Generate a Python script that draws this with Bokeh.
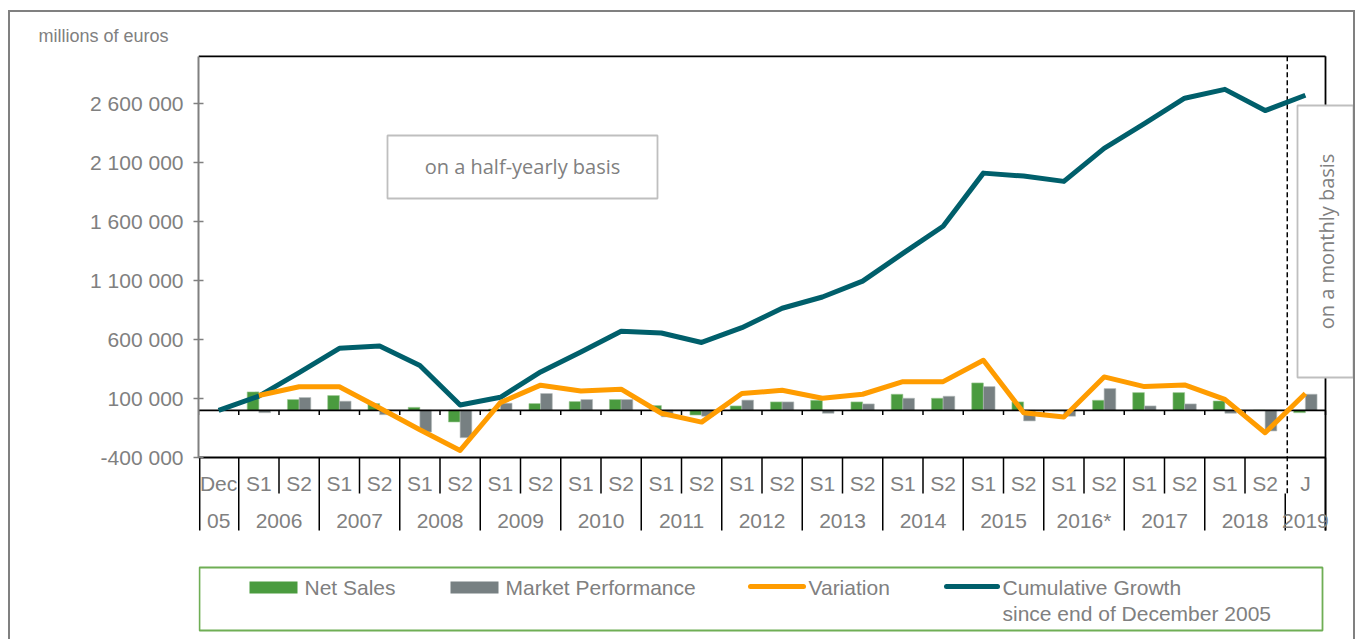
import numpy as np
from bokeh.plotting import figure
from bokeh.models import Range1d, FixedTicker, Title
from bokeh.core.properties import value
from bokeh.embed import file_html
from bokeh.resources import INLINE

# ---------------- data (millions of euros) ----------------
periods = ["Dec"] + ["S1", "S2"] * 13 + ["J"]
years = ["05", "2006", "2007", "2008", "2009", "2010", "2011", "2012", "2013",
         "2014", "2015", "2016*", "2017", "2018", "2019"]
# cumulative growth since end of December 2005 (Dec 05 ... J 2019)
cumulative = [0, 120000, 320000, 525000, 545000, 380000, 45000, 110000, 325000,
              495000, 670000, 655000, 575000, 700000, 865000, 960000, 1095000,
              1330000, 1560000, 2010000, 1985000, 1940000, 2220000, 2430000,
              2645000, 2720000, 2540000, 2670000]
# series from 2006 S1 to J 2019
net_sales = [156000, 91000, 125000, 57000, 25000, -99000, 10000, 57000, 74000,
             91000, 40000, -40000, 37000, 71000, 85000, 71000, 136000, 102000,
             232000, 71000, -5000, 85000, 150000, 150000, 79000, 0, -20000]
market_perf = [-20000, 108000, 77000, -37000, -184000, -232000, 60000, 142000,
               91000, 91000, -55000, -50000, 86000, 71000, -25000, 54000, 102000,
               119000, 201000, -90000, -50000, 184000, 37000, 54000, -25000,
               -175000, 136000]
variation = [125000, 200000, 200000, 20000, -165000, -340000, 65000, 213000,
             164000, 179000, -25000, -100000, 142000, 170000, 102000, 136000,
             243000, 243000, 424000, -20000, -57000, 283000, 201000, 215000,
             93000, -190000, 142000]
y_ticks = [-400000, 100000, 600000, 1100000, 1600000, 2100000, 2600000]
y_tick_labels = ["-400 000", "100 000", "600 000", "1 100 000", "1 600 000",
                 "2 100 000", "2 600 000"]
legend_labels = ["Net Sales", "Market Performance", "Variation",
                 "Cumulative Growth", "since end of December 2005"]

# ---------------- colours / fonts ----------------
GREEN = "#4A9B3F"
GREY = "#778082"
ORANGE = "#FF9C00"
TEAL = "#005F6B"
TXT = "#808080"
BOXLINE = "#BFBFBF"
FONT = value("Liberation Sans")

# ---------------- geometry (page pixels) ----------------
OX, OY = 10, 12               # canvas origin on the page (margin + border)
W, H = 1347, 629
FRAME_L = 198                 # page x of frame left / y axis
FRAME_T = 48                  # page y of frame top
CW = 40.25                    # px per category
N = len(periods)
Y0 = 409.8                    # page y of zero
PX = 500000 / 59.0            # value per pixel
Y_TOP_VAL = 3000000
Y_BOT_VAL = -400000


def vx(page_x):
    return (page_x - FRAME_L) / CW


def vy(page_y):
    return (Y0 - page_y) * PX


p = figure(width=W, height=H, x_range=Range1d(0, vx(OX + W)),
           y_range=Range1d(vy(OY + H), vy(FRAME_T)), output_backend="svg",
           toolbar_location=None, x_axis_location=None, y_axis_location="left",
           min_border_left=FRAME_L - OX, min_border_right=0,
           min_border_top=FRAME_T - OY, min_border_bottom=0,
           title=Title(text="millions of euros", align="left",
                       offset=38 - FRAME_L, text_font="Liberation Sans",
                       text_font_size="18px", text_font_style="normal",
                       text_color=TXT, standoff=5))
p.styles = {"margin-left": "8px", "margin-top": "10px",
            "border-left": "2px solid #808080",
            "border-top": "2px solid #808080",
            "border-right": "2px solid #808080"}
p.grid.visible = False
p.outline_line_color = None
p.background_fill_color = "white"
p.border_fill_color = "white"

ax = p.yaxis[0]
ax.ticker = FixedTicker(ticks=y_ticks)
ax.major_label_overrides = {t: l for t, l in zip(y_ticks, y_tick_labels)}
ax.bounds = (Y_BOT_VAL, Y_TOP_VAL)
ax.axis_line_color = TXT
ax.axis_line_width = 2
ax.major_tick_line_color = TXT
ax.major_tick_line_width = 1.5
ax.major_tick_in = 5
ax.major_tick_out = 5
ax.minor_tick_line_color = None
ax.major_label_text_font = "Liberation Sans"
ax.major_label_text_font_size = "21px"
ax.major_label_text_color = TXT
ax.major_label_standoff = 10

cx = np.arange(N) + 0.5
cx_s = cx[1:]
BW = 0.29

# bars
p.vbar(x=cx_s - BW / 2, width=BW, top=net_sales, bottom=0, fill_color=GREEN,
       line_color="#9CC794", line_width=0.6)
p.vbar(x=cx_s + BW / 2, width=BW, top=market_perf, bottom=0, fill_color=GREY,
       line_color="#B4BABB", line_width=0.6)

# frame lines
blk = dict(line_color="black", line_width=1.8)
p.segment(x0=[0, N, 0, 0], y0=[Y_TOP_VAL, Y_TOP_VAL, Y_BOT_VAL, 0],
          x1=[N, N, N, N], y1=[Y_TOP_VAL, vy(530), Y_BOT_VAL, 0], **blk)
ks = np.arange(N + 1)
p.segment(x0=ks, y0=np.zeros(N + 1), x1=ks, y1=np.full(N + 1, vy(414.5)),
          line_color="black", line_width=1.5)

# category separators below the plot
year_bounds = {0, 1, N - 1, N} | set(range(1, N - 1, 2))
y_long, y_short = vy(530), vy(493)
sep_x, sep_y0, sep_y1 = [], [], []
for k in range(N + 1):
    if k == N - 1:
        sep_x.append(k); sep_y0.append(y_short); sep_y1.append(y_long)
    else:
        sep_x.append(k); sep_y0.append(Y_BOT_VAL)
        sep_y1.append(y_long if k in year_bounds else y_short)
sep_x[0] = 0.03
p.segment(x0=sep_x, y0=sep_y0, x1=sep_x, y1=sep_y1, line_color="black",
          line_width=1.5)

# dashed separator half-yearly / monthly
p.segment(x0=[N - 1 + 0.05], y0=[Y_TOP_VAL], x1=[N - 1 + 0.05], y1=[y_short],
          line_color="black", line_width=1.5, line_dash="5 3")

# lines
p.line(cx, cumulative, line_color=TEAL, line_width=5, line_join="round")
p.line(cx_s, variation, line_color=ORANGE, line_width=5, line_join="round")

# category labels
txt = dict(text_font=FONT, text_font_size="21px", text_color=TXT,
           text_align="center", text_baseline="middle")
p.text(x=cx, y=np.full(N, vy(483)), text=periods, **txt)
year_x = [0.5] + [2.0 + 2 * k for k in range(13)] + [N - 0.5]
p.text(x=year_x, y=np.full(len(years), vy(520)), text=years, **txt)

# text boxes
p.quad(left=[vx(387)], right=[vx(657)], top=[vy(135)], bottom=[vy(198)],
       fill_color="white", line_color=BOXLINE, line_width=1.8)
p.text(x=[vx(522)], y=[vy(166)], text=["on a half-yearly basis"],
       text_font=value("Open Sans"), text_font_size="20px", text_color=TXT,
       text_align="center", text_baseline="middle")
p.quad(left=[vx(1297)], right=[vx(1353)], top=[vy(105)], bottom=[vy(377)],
       fill_color="white", line_color=BOXLINE, line_width=1.8)
p.text(x=[vx(1326)], y=[vy(241)], text=["on a monthly basis"], angle=np.pi / 2,
       text_font=value("Open Sans"), text_font_size="20px", text_color=TXT,
       text_align="center", text_baseline="middle")

# legend
p.quad(left=[vx(199)], right=[vx(1322)], top=[vy(567)], bottom=[vy(630)],
       fill_color=None, line_color="#6FAE55", line_width=1.8)
p.quad(left=[vx(249), vx(450)], right=[vx(297), vx(498)],
       top=[vy(581), vy(581)], bottom=[vy(593), vy(593)],
       fill_color=[GREEN, GREY], line_color=None)
p.segment(x0=[vx(750), vx(946)], y0=[vy(586), vy(586)],
          x1=[vx(803), vx(997)], y1=[vy(586), vy(586)],
          line_color=[ORANGE, TEAL], line_width=5, line_cap="round")
p.text(x=[vx(304), vx(505), vx(808), vx(1002), vx(1002)],
       y=[vy(587), vy(587), vy(587), vy(587), vy(613)],
       text=legend_labels, text_font=FONT, text_font_size="21px",
       text_color=TXT, text_align="left", text_baseline="middle")

open("out.html", "w").write(file_html(p, INLINE))
